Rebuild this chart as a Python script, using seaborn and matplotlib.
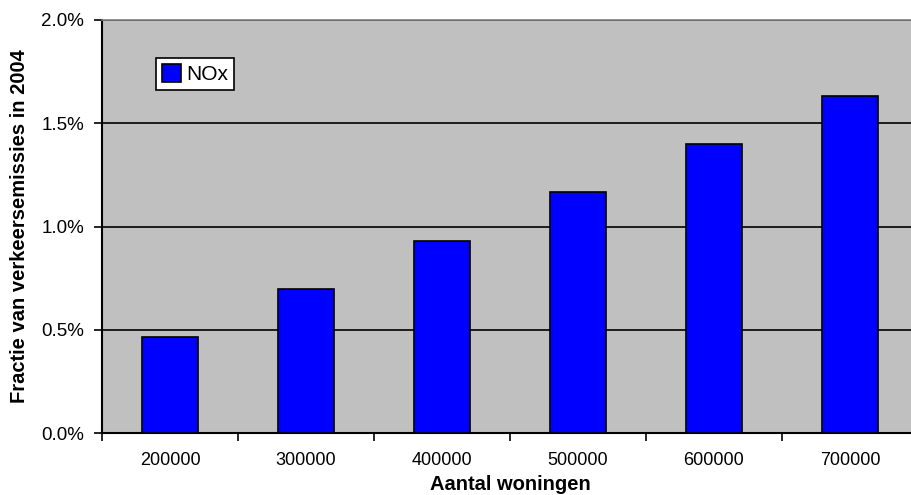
import matplotlib
matplotlib.use("Agg")
import matplotlib.pyplot as plt
import matplotlib.ticker as mticker
import seaborn as sns
import pandas as pd

# Share of 2004 traffic emissions (NOx) per number of dwellings
woningen = ["200000", "300000", "400000", "500000", "600000", "700000"]
nox_fractie = [0.00466, 0.00699, 0.00932, 0.01165, 0.01398, 0.01631]
reeks = "NOx"

df = pd.DataFrame({"woningen": woningen, "fractie": nox_fractie, "reeks": reeks})

sns.set_theme(style="white")
plt.rcParams["font.family"] = ["Liberation Sans", "DejaVu Sans"]
plt.rcParams["text.color"] = "black"

fig = plt.figure(figsize=(9.11, 4.95), dpi=100)
ax = fig.add_axes([102 / 911, 62 / 495, 816 / 911, 413 / 495])
ax.set_facecolor("#C0C0C0")

sns.barplot(data=df, x="woningen", y="fractie", hue="reeks",
            palette={reeks: "#0000FF"}, width=0.41, edgecolor="black",
            linewidth=1.2, saturation=1, ax=ax, zorder=3)

ax.set_ylim(0, 0.02)
ax.set_xlim(-0.5, 5.5)
ax.yaxis.set_major_locator(mticker.MultipleLocator(0.005))
ax.yaxis.set_major_formatter(mticker.PercentFormatter(1.0, decimals=1))
ax.yaxis.grid(True, color="black", linewidth=1.2, zorder=1)
ax.set_axisbelow(True)

# category separators as outward ticks on the x axis
ax.set_xticks([i - 0.5 for i in range(7)], minor=True)
ax.tick_params(axis="x", which="major", length=0, pad=14, labelsize=13, labelcolor="black")
ax.tick_params(axis="x", which="minor", length=6, width=1.2, direction="out", color="black", bottom=True)
ax.tick_params(axis="y", which="major", length=6, width=1.2, direction="out", color="black",
               left=True, labelsize=13.5, labelcolor="black", pad=7)

for side in ("left", "bottom"):
    ax.spines[side].set_color("black")
    ax.spines[side].set_linewidth(1.5)
ax.spines["top"].set_color("#808080")
ax.spines["top"].set_linewidth(1.2)
ax.spines["right"].set_visible(False)

ax.set_xlabel("Aantal woningen", fontsize=14.5, fontweight="bold", labelpad=4, color="black")
ax.set_ylabel("Fractie van verkeersemissies in 2004", fontsize=14.5, fontweight="bold",
              labelpad=9, color="black")

leg = ax.legend(loc="upper left", bbox_to_anchor=(54 / 816, 1 - 38 / 413), frameon=True,
                fancybox=False, edgecolor="black", framealpha=1, fontsize=15,
                handlelength=0.9, handleheight=0.9, handletextpad=0.25,
                borderpad=0.3, borderaxespad=0)
leg.get_frame().set_linewidth(1.2)

fig.savefig("out.png", dpi=100)
